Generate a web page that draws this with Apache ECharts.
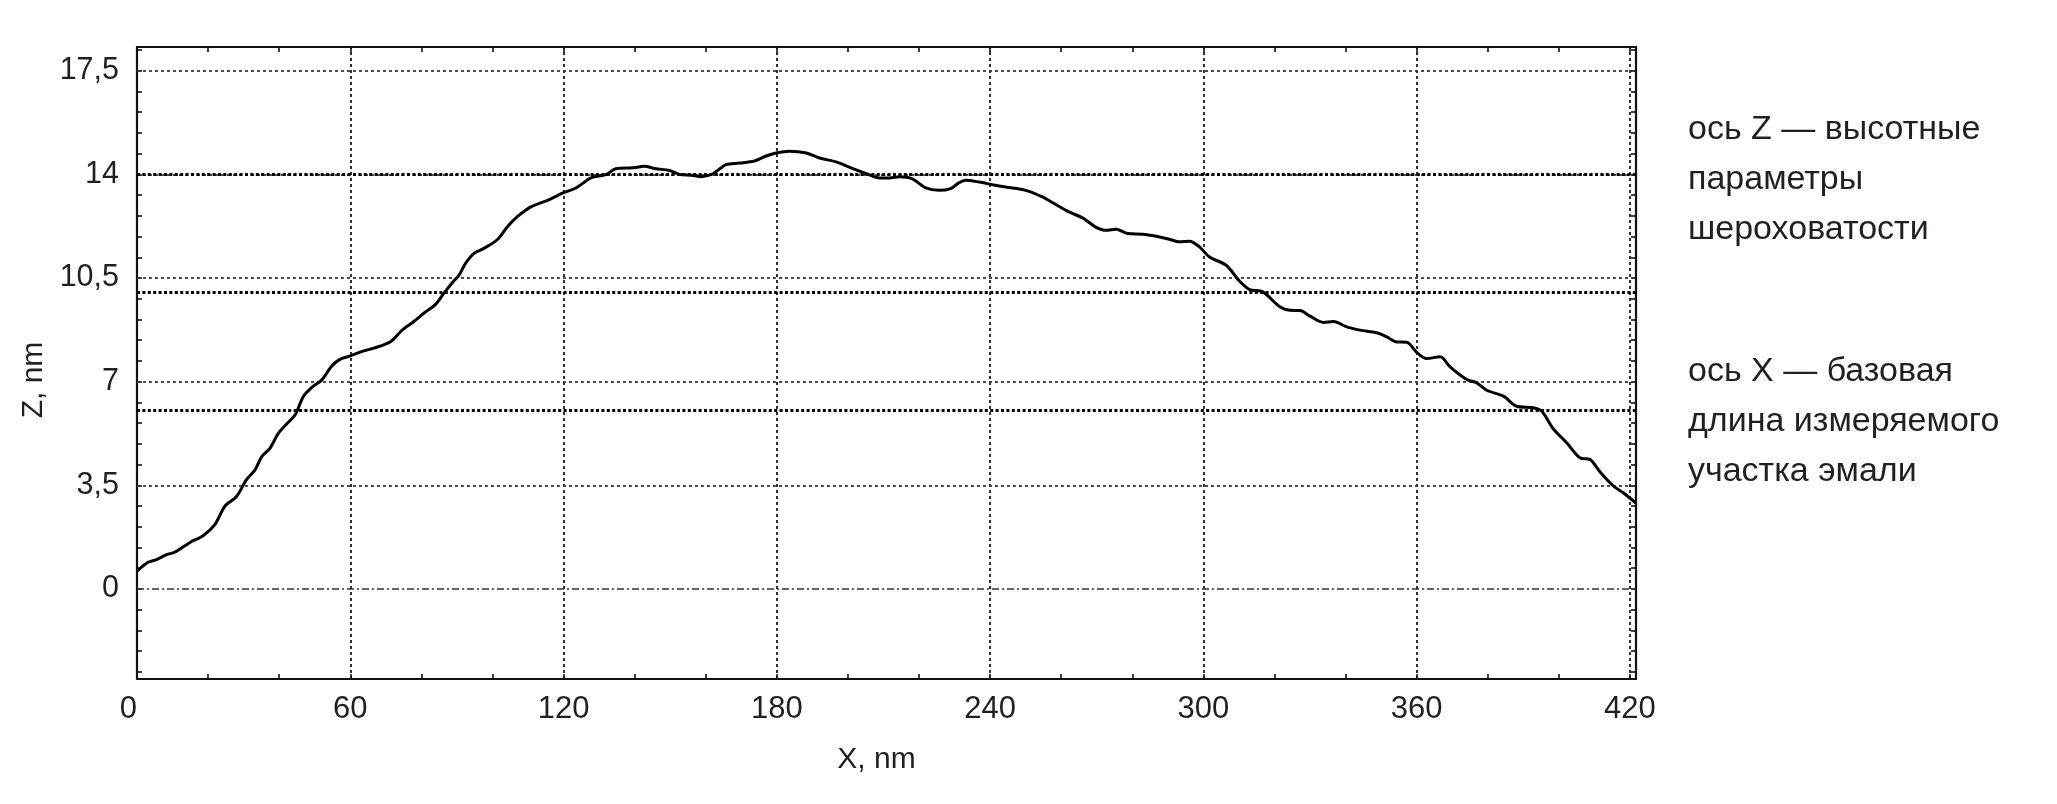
<!DOCTYPE html>
<html><head><meta charset="utf-8">
<script src="https://cdn.jsdelivr.net/npm/echarts@6/dist/echarts.min.js"></script>
<style>html,body{margin:0;padding:0;background:#fff}#c{width:2057px;height:804px}</style>
</head><body><div id="c"></div>
<script>
// ---- data ----
const xValues = [0,3.1,5.5,8.3,10.6,14.9,18.6,21.9,24.7,28.0,30.8,33.2,35.1,37.4,39.8,42.1,44.5,46.8,49.2,52.0,54.8,57.2,60.0,63.8,66.6,71.3,74.6,77.9,80.7,84.0,86.3,88.7,90.6,92.4,94.8,97.6,101.4,104.2,107.0,110.8,116.0,120.0,123.5,127.7,131.9,134.7,139.4,142.7,146.0,149.8,152.6,155.9,158.7,162.0,165.7,169.5,173.7,177.0,179.8,183.6,188.3,192.0,196.7,201.4,205.2,208.9,211.7,214.5,218.1,221.9,225.6,228.9,231.3,233.1,236.9,240.7,244.4,250.0,254.7,258.5,262.2,266.0,269.7,272.6,275.4,278.7,282.9,286.7,290.4,293.2,296.1,298.9,301.7,306.4,310.2,313.0,316.7,321.6,324.4,327.2,330.0,333.8,336.6,340.3,344.1,348.8,351.6,354.4,357.2,360.0,362.8,366.6,369.4,374.1,376.9,379.7,384.4,388.1,392.8,395.2,398.4,402.2,405.9,408.8,411.6,415.3,418.1,421.7];
const zValues = [0.6,0.9,0.99,1.16,1.24,1.57,1.80,2.17,2.79,3.12,3.69,4.02,4.47,4.75,5.26,5.57,5.88,6.50,6.81,7.06,7.53,7.76,7.87,8.04,8.13,8.35,8.74,9.03,9.31,9.61,9.98,10.34,10.60,10.99,11.33,11.50,11.80,12.23,12.57,12.9,13.15,13.38,13.54,13.88,13.99,14.19,14.22,14.27,14.19,14.13,14.0,13.97,13.92,14.02,14.33,14.38,14.45,14.62,14.72,14.78,14.72,14.55,14.42,14.19,14.02,13.88,13.88,13.92,13.85,13.54,13.46,13.52,13.72,13.80,13.74,13.65,13.57,13.46,13.24,12.98,12.73,12.53,12.22,12.11,12.15,12.0,11.98,11.91,11.81,11.72,11.74,11.55,11.21,10.93,10.39,10.11,10.03,9.52,9.41,9.40,9.21,9.0,9.03,8.85,8.74,8.65,8.51,8.34,8.33,7.99,7.78,7.84,7.50,7.07,6.96,6.71,6.51,6.17,6.12,6.0,5.41,4.94,4.43,4.37,3.95,3.48,3.25,2.9];
const xTickLabels = [0,60,120,180,240,300,360,420];
const zTickLabels = [0,3.5,7,10.5,14,17.5];
const xMinorTicks = [0,20,40,60,80,100,120,140,160,180,200,220,240,260,280,300,320,340,360,380,400,420];
const zMinorTicks = [-2.8,-2.1,-1.4,-0.7,0,0.7,1.4,2.1,2.8,3.5,4.2,4.9,5.6,6.3,7,7.7,8.4,9.1,9.8,10.5,11.2,11.9,12.6,13.3,14,14.7,15.4,16.1,16.8,17.5,18.2];
const zBoldLines = [14.0, 10.03, 6.05];
const xRange = [0, 421.7];
const zRange = [-3.04, 18.3];
const noteLines = ['ось Z — высотные','параметры','шероховатости','ось X — базовая','длина измеряемого','участка эмали'];
const xName = 'X, nm';
const zName = 'Z, nm';

// ---- chart ----
const TXT = '#231f20';
const FONT = 'Liberation Sans, Arial, sans-serif';
const chart = echarts.init(document.getElementById('c'), null, {renderer: 'canvas'});
const comma = v => String(v).replace('.', ',');

const tickStyle = {show: true, inside: true, length: 5, lineStyle: {color: '#111', width: 1.6}};
const axisLineStyle = {show: true, onZero: false, lineStyle: {color: '#111', width: 2.2}};

const markData = [];
xTickLabels.slice(1).forEach(v => markData.push({xAxis: v, lineStyle: {color: '#1a1a1a', width: 1.8, type: [3, 3]}}));
zTickLabels.forEach(v => {
  if (v === 0) markData.push({yAxis: v, lineStyle: {color: '#333', width: 1.7, type: [7, 3, 2, 3]}});
  else markData.push({yAxis: v, lineStyle: {color: '#3a3a3a', width: 1.8, type: [3, 3]}});
});
zBoldLines.forEach(v => markData.push({yAxis: v, lineStyle: {color: '#000', width: 2.8, type: [3, 2.4]}}));

const option = {
  animation: false,
  backgroundColor: '#fff',
  grid: {left: 137, right: 421, top: 47, bottom: 125, containLabel: false},
  xAxis: [
    {type: 'value', position: 'bottom', min: xRange[0], max: xRange[1],
     name: xName, nameLocation: 'middle', nameGap: 66,
     nameTextStyle: {fontFamily: FONT, fontSize: 30, color: TXT, padding: [0, 20, 0, 0]},
     axisLine: axisLineStyle, axisTick: Object.assign({customValues: xMinorTicks}, tickStyle),
     axisLabel: {customValues: xTickLabels, alignMinLabel: 'right', fontFamily: FONT, fontSize: 31, color: TXT, margin: 15},
     splitLine: {show: false}},
    {type: 'value', position: 'top', min: xRange[0], max: xRange[1],
     axisLine: axisLineStyle, axisTick: Object.assign({customValues: xMinorTicks}, tickStyle),
     axisLabel: {show: false}, splitLine: {show: false}}
  ],
  yAxis: [
    {type: 'value', position: 'left', min: zRange[0], max: zRange[1],
     name: zName, nameLocation: 'middle', nameGap: 84, nameRotate: 90,
     nameTextStyle: {fontFamily: FONT, fontSize: 30, color: TXT, padding: [0, 34, 0, 0]},
     axisLine: axisLineStyle, axisTick: Object.assign({customValues: zMinorTicks}, tickStyle),
     axisLabel: {customValues: zTickLabels, formatter: comma, fontFamily: FONT, fontSize: 30.5, color: TXT, margin: 18, padding: [6, 0, 0, 0]},
     splitLine: {show: false}},
    {type: 'value', position: 'right', min: zRange[0], max: zRange[1],
     axisLine: axisLineStyle, axisTick: Object.assign({customValues: zMinorTicks}, tickStyle),
     axisLabel: {show: false}, splitLine: {show: false}}
  ],
  series: [
    {type: 'line', name: 'grid', data: [], z: 1, silent: true,
     markLine: {silent: true, symbol: ['none', 'none'], label: {show: false}, z: 1, animation: false, data: markData}},
    {type: 'line', name: 'profile', z: 3, showSymbol: false, smooth: 0.3,
     lineStyle: {color: '#000', width: 3},
     data: xValues.map((x, i) => [x, zValues[i]])}
  ],
  graphic: noteLines.map((t, i) => ({
    type: 'text', x: 1688, y: [130, 180, 230, 372, 422, 472][i], z: 10,
    style: {text: t, fontFamily: FONT, fontSize: 34, fill: TXT, verticalAlign: 'middle', align: 'left'}
  }))
};
chart.setOption(option);
</script>
</body></html>
